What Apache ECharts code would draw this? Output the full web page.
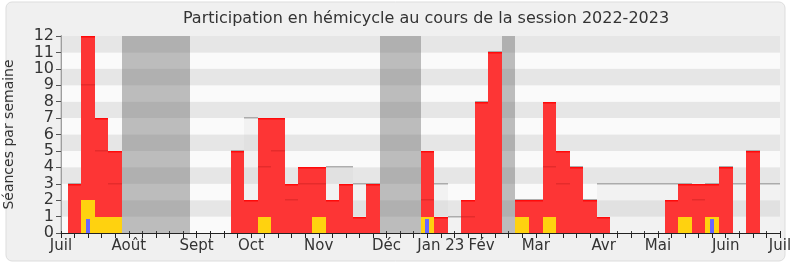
<!DOCTYPE html>
<html><head><meta charset="utf-8">
<script src="https://cdn.jsdelivr.net/npm/echarts@6/dist/echarts.min.js"></script>
<style>html,body{margin:0;padding:0;background:#fff}#c{width:790px;height:267px}</style>
</head><body><div id="c"></div>
<script>
// Week index 0..53 (July 2022 -> July 2023)
const presences     = [0,3,12,7,5,0,0,0,0,0, 0,0,0,5,2,7,7,3,4,4, 2,3,1,3,0,0,0,5,1,0, 2,8,11,0,2,2,8,5,4,2, 1,0,0,0,0,2,3,3,3,4, 0,5,0,0];
const seances       = [0,3,9,5,3,0,0,0,0,0, 0,0,0,5,7,4,5,2,3,3, 4,4,3,3,0,0,0,2,3,1, 1,8,11,0,2,2,4,3,4,2, 3,3,3,3,3,3,3,2,3,4, 3,5,3,3];
const interventions = [0,0,2,1,1,0,0,0,0,0, 0,0,0,0,0,1,0,0,0,1, 0,0,0,0,0,0,0,1,0,0, 0,0,0,0,1,0,1,0,0,0, 0,0,0,0,0,0,1,0,1,0, 0,0,0,0];
const questions     = [0,0,0.85,0,0,0,0,0,0,0, 0,0,0,0,0,0,0,0,0,0, 0,0,0,0,0,0,0,0.85,0,0, 0,0,0,0,0,0,0,0,0,0, 0,0,0,0,0,0,0,0,0.85,0, 0,0,0,0];
const vacances      = [[4.5,9.5],[23.5,26.5],[32.5,33.5]];
const monthTicks    = [0,5,10,14,19,24,28,31,35,40,44,49,53];
const monthNames    = ['Juil','Août','Sept','Oct','Nov','Déc','Jan 23','Fév','Mar','Avr','Mai','Juin','Juil'];
const yTicks        = [0,1,2,3,4,5,6,7,8,9,10,11,12];

const chart = echarts.init(document.getElementById('c'), null, {renderer:'canvas'});
const FONT = 'DejaVu Sans';

function clip(shape, params){
  const cs = params.coordSys;
  return echarts.graphic.clipRectByRect(shape, {x:cs.x, y:cs.y, width:cs.width, height:cs.height});
}
function weekRect(api, params, v){
  const w = api.value(0);
  const p1 = api.coord([w-0.5, v]);
  const p2 = api.coord([w+0.5, 0]);
  const x1 = Math.round(p1[0]), x2 = Math.round(p2[0]);
  const y1 = Math.round(p1[1]), y2 = Math.round(p2[1]);
  return clip({x:x1, y:y1, width:x2-x1, height:y2-y1}, params);
}
function toData(arr){ return arr.map((v,i)=>[i,v]); }
function fillStyle(c){ return {fill:c, stroke:null, lineWidth:0}; }

const option = {
  animation:false,
  backgroundColor:'#ffffff',
  graphic:[
    {type:'rect', z:-10, shape:{x:6,y:2,width:779,height:259,r:6}, style:{fill:'#f0f0f0', stroke:'#dddddd', lineWidth:1}},
    {type:'text', z:10, x:426, y:19, style:{text:'Participation en hémicycle au cours de la session 2022-2023', font:'16px "'+FONT+'"', fill:'#333', align:'center', verticalAlign:'middle'}}
  ],
  grid:{left:61, right:10, top:36, bottom:34, containLabel:false, outerBoundsMode:'none'},
  xAxis:[
    {type:'value', min:0, max:53, interval:1, position:'bottom',
     axisLine:{show:true, onZero:false, lineStyle:{color:'#222', width:1}},
     axisTick:{show:true, length:5, lineStyle:{color:'#222'}},
     splitLine:{show:false},
     axisLabel:{show:true, color:'#333', fontFamily:FONT, fontSize:15, margin:6, showMinLabel:true, showMaxLabel:true, hideOverlap:false,
       formatter:function(v){ const k = monthTicks.indexOf(Math.round(v)); return k>=0 ? monthNames[k] : ''; }}},
    {type:'value', min:0, max:53, interval:1, position:'top',
     axisLine:{show:false}, axisTick:{show:true, length:2, lineStyle:{color:'#222'}},
     axisLabel:{show:false}, splitLine:{show:false}}
  ],
  yAxis:[
    {type:'value', min:0, max:12, interval:1,
     name:'Séances par semaine', nameLocation:'middle', nameGap:45, nameTextStyle:{fontFamily:FONT, fontSize:14, color:'#333'},
     axisLine:{show:true, lineStyle:{color:'#222'}},
     axisTick:{show:true, length:5, lineStyle:{color:'#555'}},
     axisLabel:{color:'#333', fontFamily:FONT, fontSize:16, margin:7, formatter:function(v){return yTicks.indexOf(v)>=0? String(v):'';}},
     splitLine:{show:false},
     splitArea:{show:true, areaStyle:{color:['#fafafa','#e6e6e6']}}},
    {type:'value', min:0, max:12, interval:1, position:'right',
     axisLine:{show:true, lineStyle:{color:'#c8c8c8', width:1.5}}, axisTick:{show:false}, axisLabel:{show:false}, splitLine:{show:false}}
  ],
  series:[
    {type:'custom', name:'Vacances', data:vacances, z:1, silent:true,
     renderItem:function(params, api){
       const p1 = api.coord([api.value(0), 12]);
       const p2 = api.coord([api.value(1), 0]);
       const x1 = Math.round(p1[0]), x2 = Math.round(p2[0]);
       return {type:'rect', shape:clip({x:x1,y:p1[1],width:x2-x1,height:p2[1]-p1[1]}, params), style:fillStyle('rgba(96,96,96,0.4)')};
     }},
    {type:'custom', name:'Séances', data:toData(seances), z:2, silent:true,
     renderItem:function(params, api){
       const v = api.value(1); if(!v) return null;
       const r = weekRect(api, params, v); if(!r) return null;
       return {type:'group', children:[
         {type:'rect', shape:r, style:fillStyle('rgba(200,200,200,0.17)')},
         {type:'rect', shape:{x:r.x, y:r.y-1, width:r.width, height:1.5}, style:fillStyle('rgba(160,160,160,0.85)')}
       ]};
     }},
    {type:'custom', name:'Présences', data:toData(presences), z:3, silent:true,
     renderItem:function(params, api){
       const v = api.value(1); if(!v) return null;
       const r = weekRect(api, params, v); if(!r) return null;
       return {type:'group', children:[
         {type:'rect', shape:r, style:fillStyle('#fd3535')},
         {type:'rect', shape:{x:r.x, y:r.y, width:r.width, height:1.5}, style:fillStyle('#ff0a0a')}
       ]};
     }},
    {type:'custom', name:'Séances (sous présences)', data:toData(seances), z:4, silent:true,
     renderItem:function(params, api){
       const i = api.value(0), v = api.value(1);
       if(!v || v >= presences[i]) return null;
       const r = weekRect(api, params, v); if(!r) return null;
       return {type:'rect', shape:{x:r.x, y:r.y-1, width:r.width, height:1.5}, style:fillStyle('rgba(120,0,0,0.18)')};
     }},
    {type:'custom', name:'Interventions', data:toData(interventions), z:5, silent:true,
     renderItem:function(params, api){
       const v = api.value(1); if(!v) return null;
       const r = weekRect(api, params, v); if(!r) return null;
       return {type:'rect', shape:r, style:fillStyle('#ffd20f')};
     }},
    {type:'custom', name:'Questions orales', data:toData(questions), z:6, silent:true,
     renderItem:function(params, api){
       const v = api.value(1); if(!v) return null;
       const w = api.value(0);
       const c = api.coord([w, v]); const b = api.coord([w, 0]);
       const x = Math.round(c[0]-2);
       return {type:'rect', shape:{x:x, y:c[1], width:4, height:b[1]-c[1]}, style:fillStyle('#6666ff')};
     }}
  ]
};
chart.setOption(option);
</script></body></html>
